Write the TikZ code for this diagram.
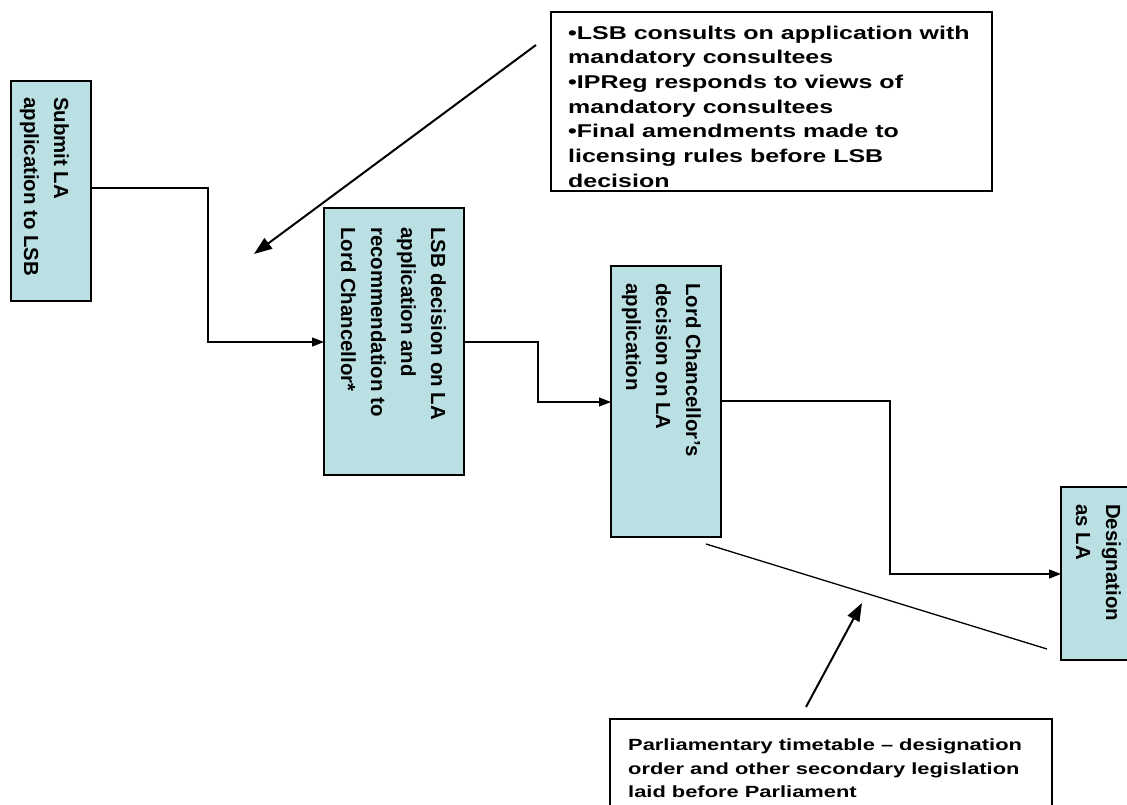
\documentclass[tikz,border=0pt]{standalone}
\usepackage{fontspec}
\setmainfont{Liberation Sans}
\newfontfamily\widefont[FakeStretch=1.35]{Liberation Sans}
\usetikzlibrary{arrows.meta}
\begin{document}
\begin{tikzpicture}[x=1pt,y=-1pt,
  stepbox/.style={draw=black,line width=1.3pt,fill=boxcyan},
  notebox/.style={draw=black,line width=1.3pt,fill=white},
  vtext/.style={anchor=north west,rotate=-90,inner sep=0pt,align=left,
    font=\fontsize{20.4}{30}\selectfont\bfseries},
  htext/.style={anchor=north west,inner sep=0pt,align=left},
  conn/.style={line width=1.2pt,-{Triangle[length=12pt,width=9pt]}},
  pointer/.style={line width=2pt,-{Triangle[length=18pt,width=13pt]}}]
\definecolor{boxcyan}{RGB}{187,224,227}
\useasboundingbox (0,0) rectangle (1127,805);
\fill[white] (0,0) rectangle (1127,805);
% step boxes
\draw[stepbox] (11,81) rectangle (91,301);
\draw[stepbox] (324,208) rectangle (464,475);
\draw[stepbox] (611,266) rectangle (721,537);
\draw[stepbox] (1061,487) rectangle (1140,660);
\node[vtext] (t1) at (69,97) {Submit LA\\application to LSB};
\node[vtext] (t2) at (446,227) {LSB decision on LA\\application and\\recommendation to\\Lord Chancellor*};
\node[vtext] (t3) at (701,283) {Lord Chancellor’s\\decision on LA\\application};
\node[vtext] (t4) at (1121,504) {Designation\\as LA};
% connection points
\coordinate (b1r) at (91,188);
\coordinate (b2l) at (324,342);
\coordinate (b2r) at (464,342);
\coordinate (b3l) at (611,402);
\coordinate (b3r) at (721,401);
\coordinate (b4l) at (1061,574);
\draw[conn] (b1r) -- (208,188) -- (208,342) -- (b2l);
\draw[conn] (b2r) -- (538,342) -- (538,402) -- (b3l);
\draw[conn] (b3r) -- (890,401) -- (890,574) -- (b4l);
% note boxes
\draw[notebox] (551,12) rectangle (992,191);
\node[htext,font=\widefont\bfseries\fontsize{18.5}{24.7}\selectfont] (n1) at (568,25.5) {%
  •LSB consults on application with\\mandatory consultees\\•IPReg responds to views of\\mandatory consultees\\•Final amendments made to\\licensing rules before LSB\\decision};
\draw[notebox] (610,719) rectangle (1052,830);
\node[htext,font=\widefont\bfseries\fontsize{16.2}{23.5}\selectfont] (n2) at (628,739) {%
  Parliamentary timetable – designation\\order and other secondary legislation\\laid before Parliament};
% pointers
\coordinate (p1s) at (536,45);
\coordinate (p1e) at (254,254);
\draw[pointer] (p1s) -- (p1e);
\coordinate (ls) at (706,544);
\coordinate (le) at (1047,649);
\draw[line width=1.3pt] (ls) -- (le);
\coordinate (p2s) at (806,707);
\coordinate (p2e) at (862,603);
\draw[pointer] (p2s) -- (p2e);
\end{tikzpicture}
\end{document}
